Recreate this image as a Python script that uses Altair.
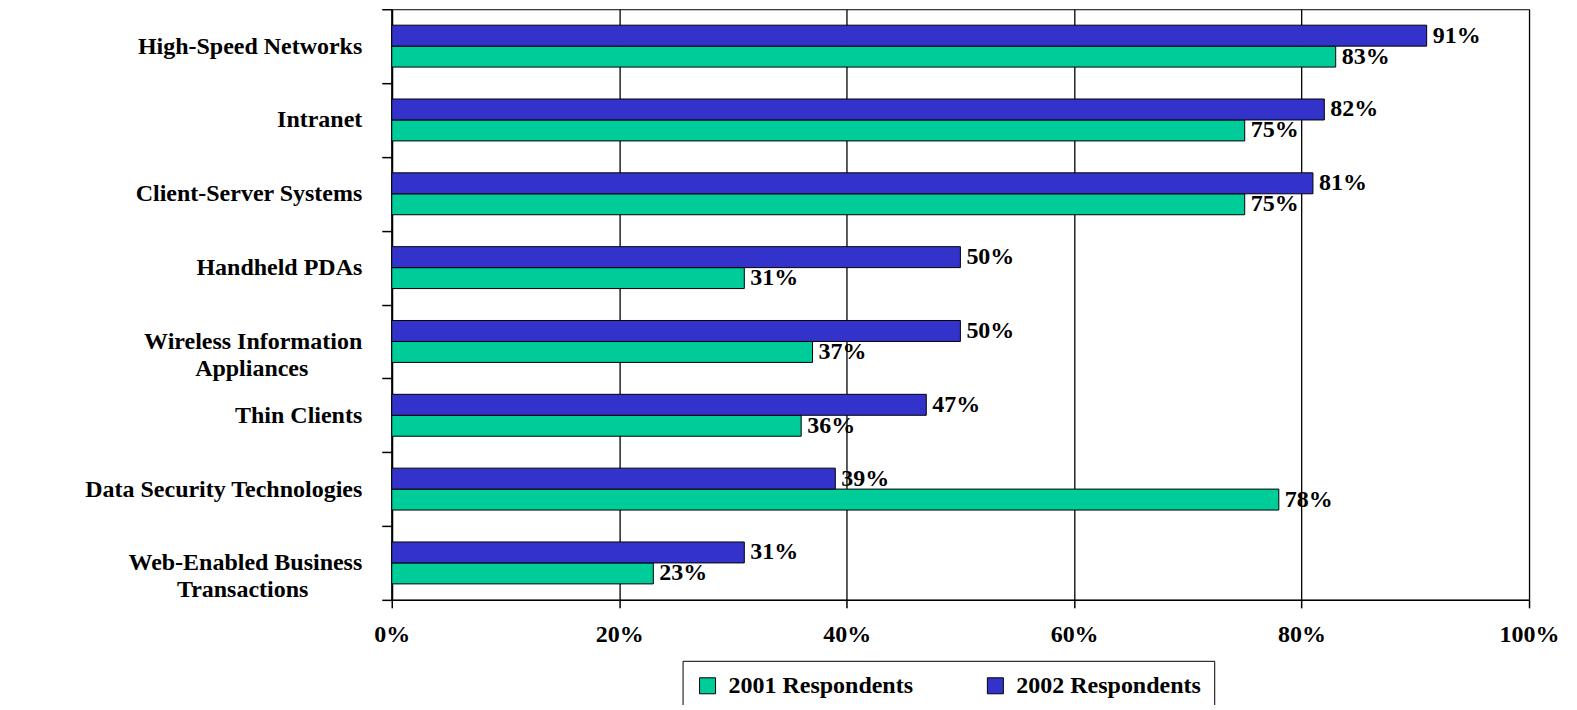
import altair as alt
import pandas as pd

categories = [
    "High-Speed Networks",
    "Intranet",
    "Client-Server Systems",
    "Handheld PDAs",
    "Wireless Information|Appliances",
    "Thin Clients",
    "Data Security Technologies",
    "Web-Enabled Business|Transactions",
]
v2001 = [83, 75, 75, 31, 37, 36, 78, 23]
v2002 = [91, 82, 81, 50, 50, 47, 39, 31]
series = ["2001 Respondents", "2002 Respondents"]
colors = ["#00CC99", "#3333CC"]
x_ticks = [0, 20, 40, 60, 80, 100]

rows = []
for c, a, b in zip(categories, v2001, v2002):
    rows.append({"cat": c, "series": series[0], "value": a, "label": f"{a}%"})
    rows.append({"cat": c, "series": series[1], "value": b, "label": f"{b}%"})
df = pd.DataFrame(rows)

FONT = "Liberation Serif"
FS = 24
# trailing non-breaking spaces (kept by a zero-width space) centre the short second line
PAD = "\u00a0" * 9 + "\u200b"

y_enc = alt.Y(
    "cat:N",
    sort=categories,
    scale=alt.Scale(paddingInner=0, paddingOuter=0),
    axis=alt.Axis(
        title=None,
        labelExpr=f"indexof(datum.label, '|') >= 0 ? split(datum.label + '{PAD}', '|') : datum.label",
        labelFont=FONT,
        labelFontSize=FS,
        labelFontWeight="bold",
        labelColor="black",
        labelLineHeight=27,
        labelLimit=400,
        labelPadding=20,
        tickBand="extent",
        tickSize=10,
        tickColor="black",
        tickWidth=1.5,
        domainColor="black",
        domainWidth=2,
        grid=False,
    ),
)
yoff = alt.YOffset(
    "series:N",
    sort=[series[1], series[0]],
    scale=alt.Scale(paddingInner=0, paddingOuter=0.762),
)
x_enc = alt.X(
    "value:Q",
    scale=alt.Scale(domain=[0, 100], nice=False),
    axis=alt.Axis(
        title=None,
        values=x_ticks,
        labelExpr="datum.value + '%'",
        labelFont=FONT,
        labelFontSize=FS,
        labelFontWeight="bold",
        labelColor="black",
        labelFlush=False,
        labelPadding=15,
        tickSize=8,
        tickColor="black",
        tickWidth=1.5,
        domainColor="black",
        domainWidth=1.5,
        grid=True,
        gridColor="black",
        gridWidth=1.3,
        gridOpacity=1,
    ),
)

base = alt.Chart(df).encode(y=y_enc, yOffset=yoff)
bars = base.mark_bar(stroke="black", strokeWidth=1).encode(
    x=x_enc,
    color=alt.Color(
        "series:N",
        scale=alt.Scale(domain=series, range=colors),
        legend=alt.Legend(
            title=None,
            orient="none",
            legendX=291,
            legendY=652,
            direction="horizontal",
            labelFont=FONT,
            labelFontSize=FS,
            labelFontWeight="bold",
            labelColor="black",
            labelLimit=400,
            symbolType="square",
            symbolSize=256,
            symbolStrokeColor="black",
            symbolStrokeWidth=1,
            symbolOpacity=1,
            columnPadding=70,
            labelOffset=9,
            strokeColor="black",
            fillColor="white",
            padding=13,
        ),
    ),
)
texts = base.mark_text(
    align="left", baseline="middle", dx=6, font=FONT, fontSize=FS, fontWeight="bold", color="black"
).encode(
    x="value:Q",
    text=alt.Text("label:N"),
)

chart = (
    alt.layer(bars, texts)
    .properties(
        width=1138,
        height=591,
        autosize=alt.AutoSizeParams(type="none"),
        padding={"left": 384, "top": 1, "right": 40, "bottom": 105},
        background="white",
    )
    .configure_view(stroke="black", strokeWidth=1)
)
chart.save("out.html", embed_options={"renderer": "svg", "actions": False})
